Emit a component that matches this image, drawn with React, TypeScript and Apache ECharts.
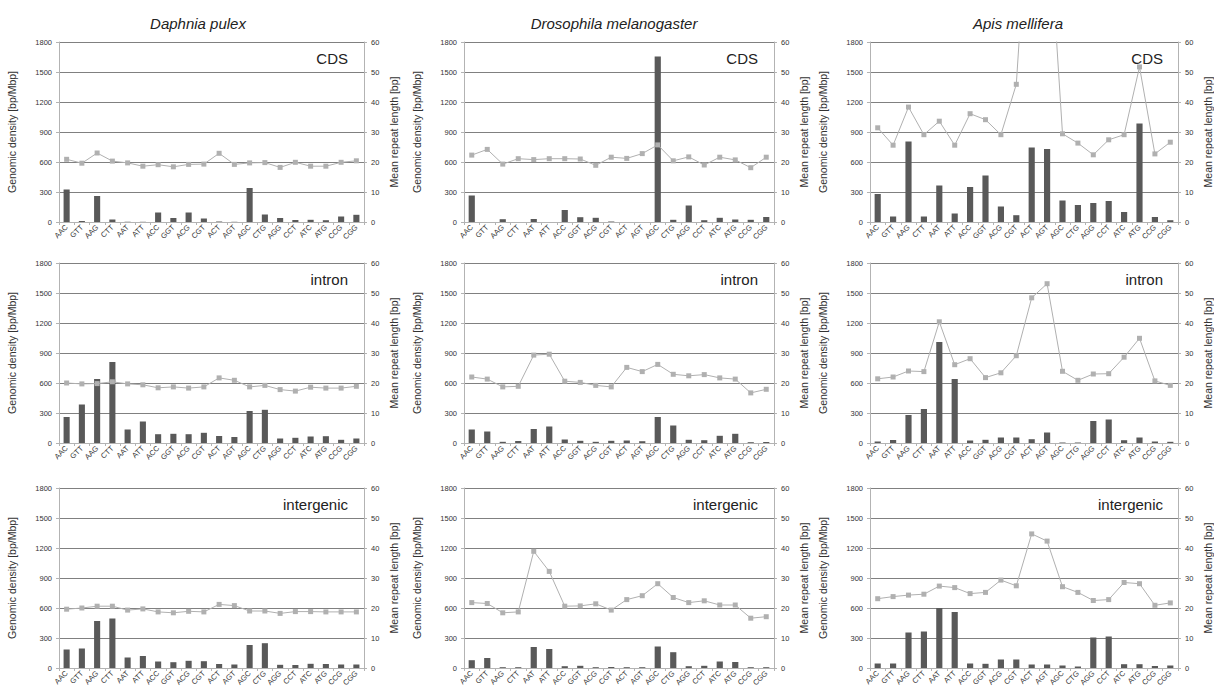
import React, { useEffect, useRef } from "react";
import * as echarts from "echarts";

const categories = ["AAC", "GTT", "AAG", "CTT", "AAT", "ATT", "ACC", "GGT", "ACG", "CGT", "ACT", "AGT", "AGC", "CTG", "AGG", "CCT", "ATC", "ATG", "CCG", "CGG"];
const species = ["Daphnia pulex", "Drosophila melanogaster", "Apis mellifera"];
const regions = ["CDS", "intron", "intergenic"];
const densityTicks = [0, 300, 600, 900, 1200, 1500, 1800];
const lengthTicks = [0, 10, 20, 30, 40, 50, 60];

// Genomic density [bp/Mbp]
const daphniaCdsDensity = [325, 10, 260, 25, 3, 2, 95, 40, 95, 35, 5, 2, 340, 75, 40, 20, 22, 18, 55, 72];
const drosophilaCdsDensity = [265, 0, 28, 0, 30, 0, 120, 48, 42, 5, 0, 0, 1655, 22, 165, 18, 42, 25, 22, 50];
const apisCdsDensity = [280, 55, 805, 55, 365, 85, 350, 465, 155, 68, 745, 730, 215, 170, 190, 210, 100, 985, 50, 18];
const daphniaIntronDensity = [260, 385, 640, 810, 135, 215, 88, 92, 88, 102, 70, 60, 320, 332, 45, 52, 65, 68, 32, 45];
const drosophilaIntronDensity = [135, 115, 12, 20, 140, 165, 35, 22, 12, 22, 25, 18, 260, 175, 32, 28, 72, 92, 8, 10];
const apisIntronDensity = [15, 30, 280, 340, 1010, 640, 25, 32, 55, 55, 38, 105, 5, 5, 220, 235, 28, 55, 15, 12];
const daphniaIntergenicDensity = [185, 195, 470, 495, 105, 120, 65, 58, 72, 68, 40, 35, 230, 248, 32, 30, 42, 40, 35, 35];
const drosophilaIntergenicDensity = [78, 100, 8, 8, 210, 190, 18, 22, 8, 10, 8, 8, 215, 158, 18, 22, 65, 60, 8, 8];
const apisIntergenicDensity = [45, 45, 355, 365, 600, 560, 45, 42, 85, 85, 35, 35, 25, 15, 305, 315, 38, 38, 20, 25];

// Mean repeat length [bp]
const daphniaCdsLength = [20.9, 19.6, 23, 20.3, 19.7, 18.6, 19.1, 18.4, 19.2, 19.3, 22.9, 19.2, 19.7, 19.8, 18.2, 19.9, 18.6, 18.6, 19.9, 20.4];
const drosophilaCdsLength = [22.3, 24.2, 19.3, 21.1, 20.8, 21.1, 21.1, 21, 18.9, 21.6, 21.2, 22.8, 25.7, 20.4, 21.7, 19, 21.6, 20.7, 18.1, 21.6];
const apisCdsLength = [31.4, 25.6, 38.3, 29.1, 33.6, 25.6, 36.1, 34.1, 29.1, 45.9, 125, 110, 29.4, 26.3, 22.4, 27.4, 29.1, 51.7, 22.7, 26.6];
const daphniaIntronLength = [20, 19.7, 19.8, 20.4, 19.7, 19.4, 18.4, 18.7, 18.3, 18.7, 21.7, 20.9, 18.7, 19.2, 17.8, 17.3, 18.6, 18.3, 18.3, 18.9];
const drosophilaIntronLength = [22, 21.3, 18.7, 18.9, 29.3, 29.6, 20.6, 20.2, 19.2, 18.7, 25.2, 23.8, 26.2, 22.9, 22.4, 22.8, 21.7, 21.3, 16.7, 17.9];
const apisIntronLength = [21.4, 22, 24, 23.8, 40.4, 26.1, 28.1, 21.8, 23.4, 29.1, 48.4, 53.1, 23.9, 20.9, 23, 23.1, 28.6, 34.9, 20.7, 19.2];
const daphniaIntergenicLength = [19.6, 20, 20.6, 20.6, 19.3, 19.7, 18.7, 18.4, 18.9, 18.7, 21.2, 20.8, 19, 19, 18.2, 18.8, 18.8, 18.7, 18.7, 18.7];
const drosophilaIntergenicLength = [21.8, 21.5, 18.4, 18.7, 38.9, 32.2, 20.6, 20.7, 21.4, 19.3, 22.8, 24.1, 28.1, 23.5, 21.8, 22.4, 21, 21, 16.6, 17.1];
const apisIntergenicLength = [23.1, 23.8, 24.3, 24.6, 27.3, 26.8, 24.8, 25.2, 29.3, 27.4, 44.7, 42.3, 27.1, 25.2, 22.5, 22.8, 28.5, 28.1, 20.9, 21.7];

const densityRows = [
  [daphniaCdsDensity, drosophilaCdsDensity, apisCdsDensity],
  [daphniaIntronDensity, drosophilaIntronDensity, apisIntronDensity],
  [daphniaIntergenicDensity, drosophilaIntergenicDensity, apisIntergenicDensity],
];
const lengthRows = [
  [daphniaCdsLength, drosophilaCdsLength, apisCdsLength],
  [daphniaIntronLength, drosophilaIntronLength, apisIntronLength],
  [daphniaIntergenicLength, drosophilaIntergenicLength, apisIntergenicLength],
];

const FONT = 'Arial, "Liberation Sans", Helvetica, sans-serif';
const colLeft = [59, 464, 870];
const colWidth = [305, 310, 309];
const rowTop = [42, 263, 488];
const rowHeight = 180;
const speciesCenter = [193, 609, 1013];

export default function App() {
  const ref = useRef<HTMLDivElement>(null);
  useEffect(() => {
    if (!ref.current) return;
    const chart = echarts.init(ref.current, null, { renderer: "svg" });
    const grid: any[] = [];
    const xAxis: any[] = [];
    const yAxis: any[] = [];
    const series: any[] = [];
    const graphic: any[] = [];
    const axisGray = "#b3b3b3";
    const plain = (v: number) => String(v);
    for (let r = 0; r < 3; r++) {
      for (let c = 0; c < 3; c++) {
        const i = r * 3 + c;
        grid.push({ left: colLeft[c], top: rowTop[r], width: colWidth[c], height: rowHeight, containLabel: false });
        xAxis.push({
          type: "category",
          gridIndex: i,
          data: categories,
          axisLine: { lineStyle: { color: axisGray, width: 1 } },
          axisTick: { show: true, length: 3, lineStyle: { color: axisGray } },
          axisLabel: { rotate: 45, interval: 0, fontSize: 7.5, color: "#333", fontFamily: FONT, margin: 4 },
        });
        yAxis.push({
          type: "value",
          gridIndex: i,
          min: densityTicks[0],
          max: densityTicks[densityTicks.length - 1],
          interval: densityTicks[1] - densityTicks[0],
          position: "left",
          name: "Genomic density [bp/Mbp]",
          nameLocation: "middle",
          nameGap: 42,
          nameTextStyle: { fontSize: 10.5, color: "#333", fontFamily: FONT },
          axisLine: { show: true, lineStyle: { color: axisGray } },
          axisTick: { show: true, length: 3, lineStyle: { color: axisGray } },
          axisLabel: { fontSize: 7.5, color: "#333", fontFamily: FONT, margin: 7, formatter: plain },
          splitLine: { show: true, lineStyle: { color: "#808080", width: 1 } },
        });
        yAxis.push({
          type: "value",
          gridIndex: i,
          min: lengthTicks[0],
          max: lengthTicks[lengthTicks.length - 1],
          interval: lengthTicks[1] - lengthTicks[0],
          position: "right",
          name: "Mean repeat length [bp]",
          nameLocation: "middle",
          nameGap: 24,
          nameRotate: 90,
          nameTextStyle: { fontSize: 10.5, color: "#333", fontFamily: FONT },
          axisLine: { show: true, lineStyle: { color: axisGray } },
          axisTick: { show: true, length: 3, lineStyle: { color: axisGray } },
          axisLabel: { fontSize: 7.5, color: "#333", fontFamily: FONT, margin: 7, formatter: plain },
          splitLine: { show: false },
        });
        series.push({
          type: "bar",
          xAxisIndex: i,
          yAxisIndex: 2 * i,
          data: densityRows[r][c],
          barWidth: "40%",
          itemStyle: { color: "#595959" },
        });
        series.push({
          type: "line",
          xAxisIndex: i,
          yAxisIndex: 2 * i + 1,
          data: lengthRows[r][c],
          clip: true,
          symbol: "rect",
          symbolSize: 5,
          lineStyle: { color: "#b0b0b0", width: 1 },
          itemStyle: { color: "#b0b0b0" },
        });
        graphic.push({
          type: "text",
          right: 1214 - (colLeft[c] + colWidth[c] - 16),
          top: rowTop[r] + 9,
          style: { text: regions[r], fontSize: 15, fill: "#222", fontFamily: FONT },
        });
      }
    }
    const title = species.map((s, c) => ({
      text: s,
      left: speciesCenter[c],
      top: 11,
      textAlign: "center",
      textStyle: { fontSize: 15, fontStyle: "italic", fontWeight: "normal", color: "#222", fontFamily: FONT },
    }));
    chart.setOption({
      animation: false,
      backgroundColor: "#fff",
      title,
      grid,
      xAxis,
      yAxis,
      series,
      graphic,
    });
    return () => chart.dispose();
  }, []);
  return <div ref={ref} style={{ position: "absolute", left: 0, top: 0, width: 1214, height: 696 }} />;
}
